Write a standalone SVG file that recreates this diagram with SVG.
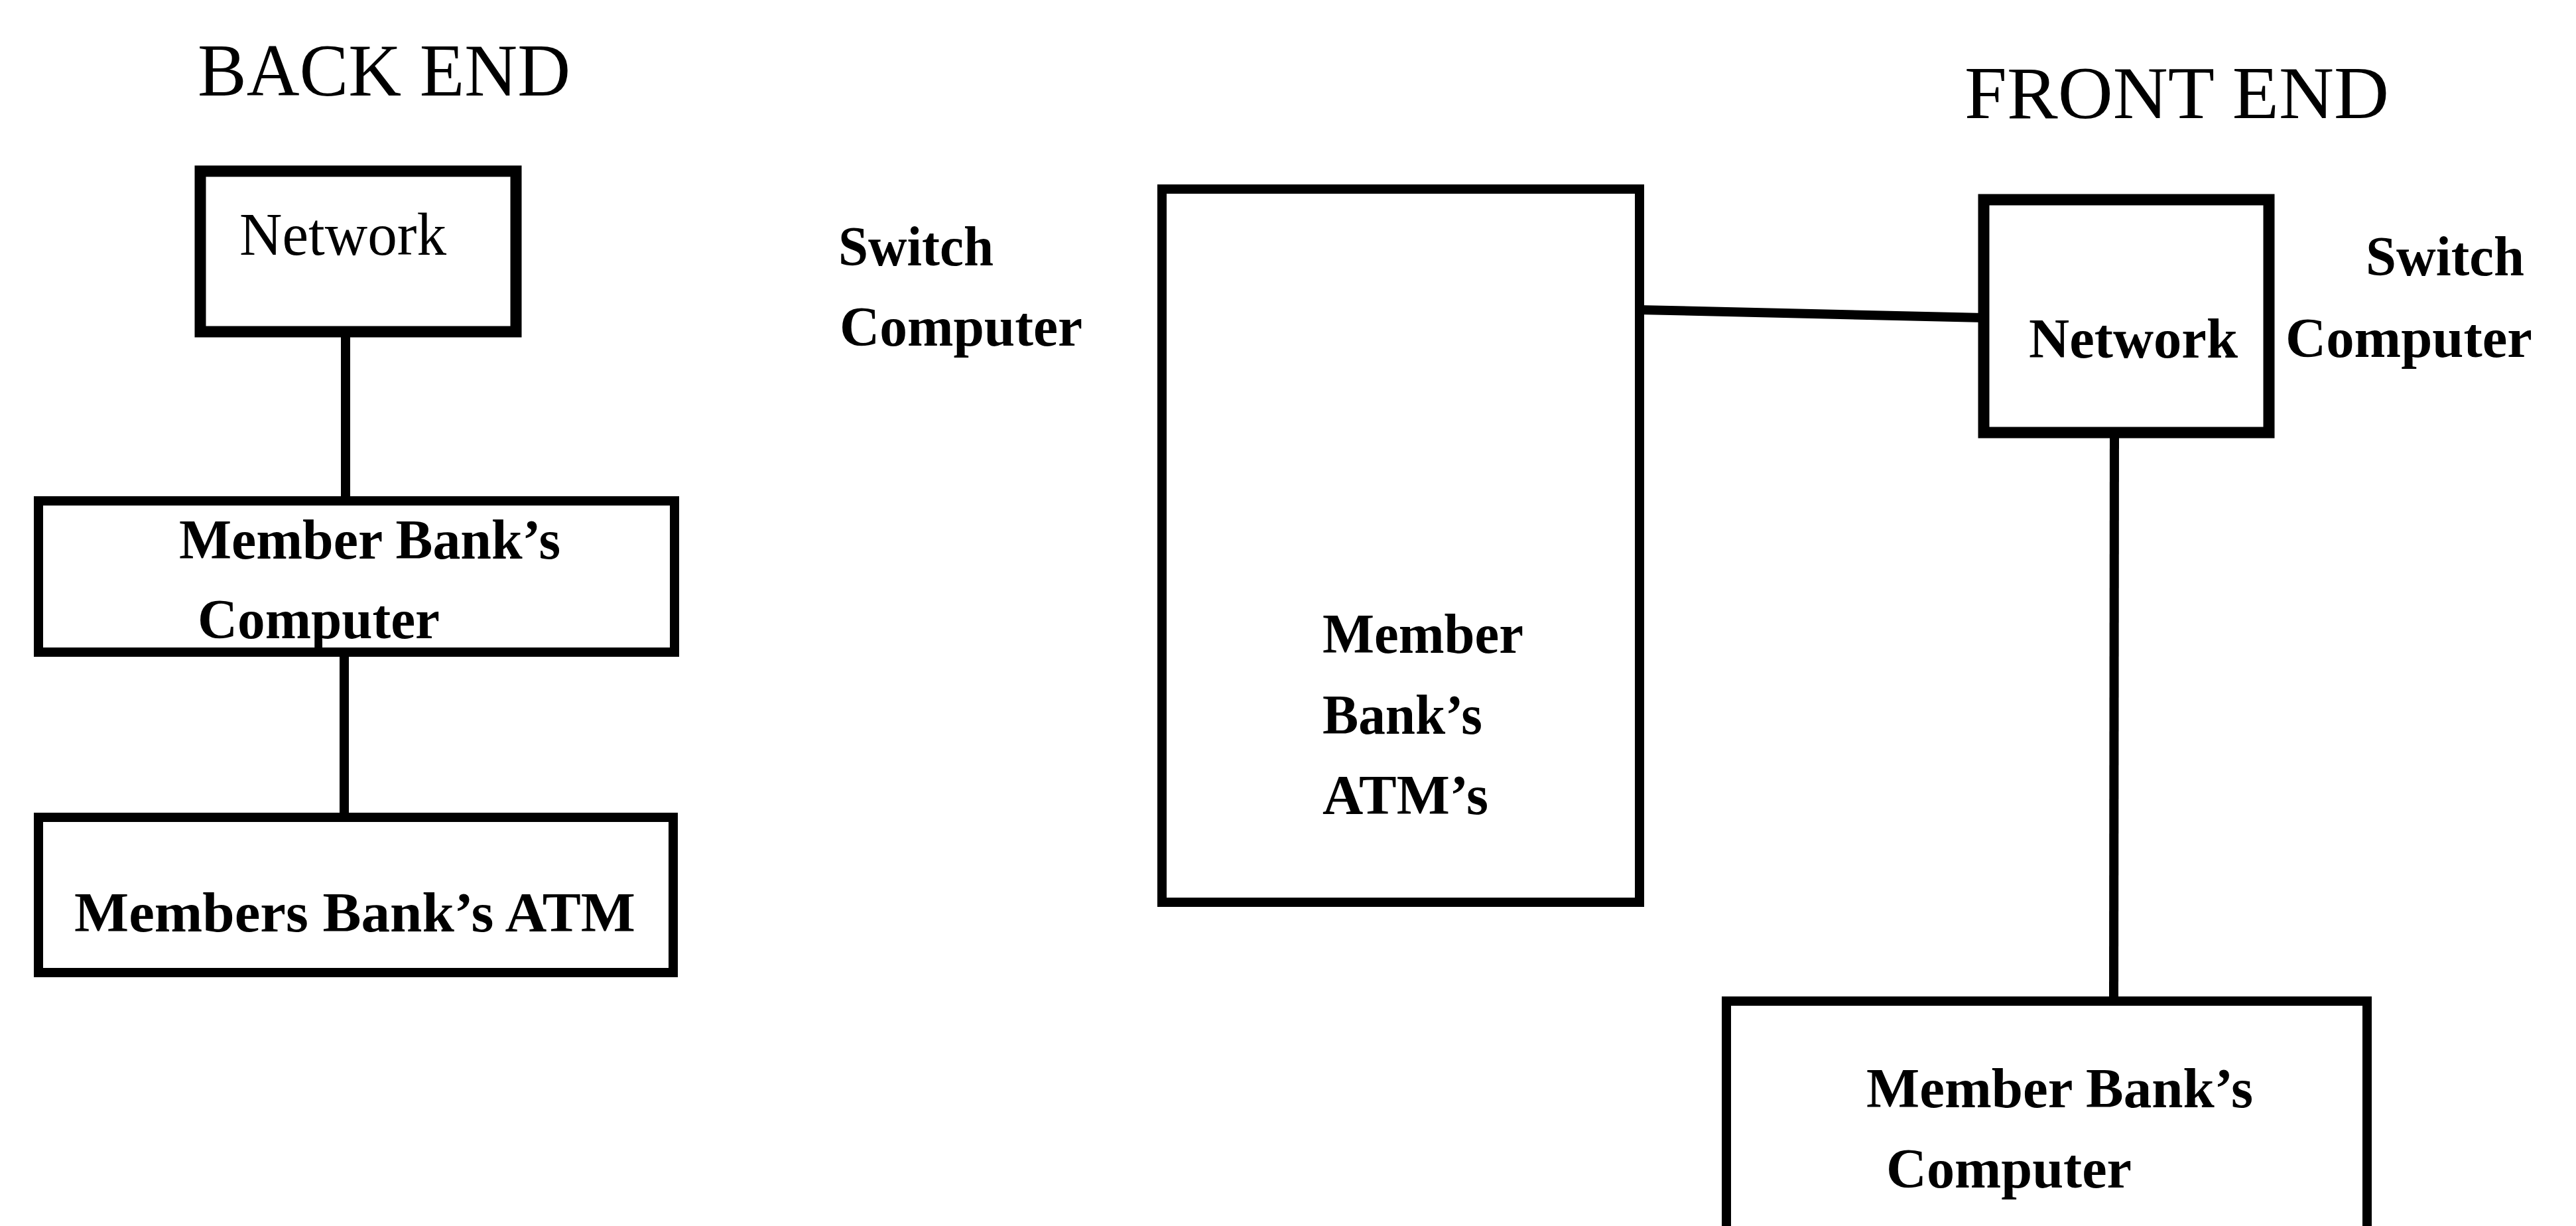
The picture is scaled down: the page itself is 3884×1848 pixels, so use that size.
<svg xmlns="http://www.w3.org/2000/svg" width="3884" height="1848" viewBox="0 0 3884 1848">
<style>
  .box { fill: none; stroke: #000; stroke-width: 14; stroke-linejoin: miter; }
  .thick { stroke-width: 17; }
  .conn { stroke: #000; stroke-width: 14; fill: none; }
  .hdr { font-family: "Liberation Serif", "Times New Roman", serif; font-size: 112px; fill: #000; }
  .lbl { font-family: "Liberation Serif", "Times New Roman", serif; font-size: 84px; font-weight: bold; fill: #000; }
  .lblr { font-family: "Liberation Serif", "Times New Roman", serif; font-size: 92px; fill: #000; }
</style>
<rect x="0" y="0" width="3884" height="1848" fill="#fff"/>

<g id="headers">
  <text class="hdr" x="298" y="144" textLength="562" lengthAdjust="spacingAndGlyphs">BACK END</text>
  <text class="hdr" x="2962" y="178" textLength="640" lengthAdjust="spacingAndGlyphs">FRONT END</text>
</g>

<g id="connectors">
  <line class="conn" x1="521" y1="500" x2="521" y2="755"/>
  <line class="conn" x1="519" y1="983" x2="519" y2="1232"/>
  <line class="conn" x1="2472" y1="467" x2="2991" y2="479"/>
  <line class="conn" x1="3188" y1="652" x2="3187" y2="1509"/>
</g>

<g id="back-network">
  <rect class="box thick" x="302" y="258" width="476" height="242"/>
  <text class="lblr" x="361" y="384" textLength="312" lengthAdjust="spacingAndGlyphs">Network</text>
</g>

<g id="back-member-computer">
  <rect class="box" x="58" y="755" width="959" height="228"/>
  <text class="lbl" x="270" y="842" textLength="575" lengthAdjust="spacingAndGlyphs">Member Bank’s</text>
  <text class="lbl" x="298" y="962" textLength="365" lengthAdjust="spacingAndGlyphs">Computer</text>
</g>

<g id="back-members-atm">
  <rect class="box" x="58" y="1232" width="957" height="234"/>
  <text class="lbl" x="112" y="1404" textLength="846" lengthAdjust="spacingAndGlyphs">Members Bank’s ATM</text>
</g>

<g id="switch-computer-label-left">
  <text class="lbl" x="1264" y="400" textLength="234" lengthAdjust="spacingAndGlyphs">Switch</text>
  <text class="lbl" x="1266" y="521" textLength="366" lengthAdjust="spacingAndGlyphs">Computer</text>
</g>

<g id="member-atms">
  <rect class="box" x="1752" y="285" width="720" height="1075"/>
  <text class="lbl" x="1994" y="984" textLength="303" lengthAdjust="spacingAndGlyphs">Member</text>
  <text class="lbl" x="1994" y="1106" textLength="241" lengthAdjust="spacingAndGlyphs">Bank’s</text>
  <text class="lbl" x="1994" y="1227" textLength="250" lengthAdjust="spacingAndGlyphs">ATM’s</text>
</g>

<g id="front-network">
  <rect class="box thick" x="2991" y="301" width="430" height="351"/>
  <text class="lbl" x="3059" y="539" textLength="315" lengthAdjust="spacingAndGlyphs">Network</text>
</g>

<g id="switch-computer-label-right">
  <text class="lbl" x="3567" y="415" textLength="239" lengthAdjust="spacingAndGlyphs">Switch</text>
  <text class="lbl" x="3446" y="538" textLength="372" lengthAdjust="spacingAndGlyphs">Computer</text>
</g>

<g id="front-member-computer">
  <rect class="box" x="2603" y="1509" width="966" height="346"/>
  <text class="lbl" x="2814" y="1669" textLength="583" lengthAdjust="spacingAndGlyphs">Member Bank’s</text>
  <text class="lbl" x="2844" y="1790" textLength="370" lengthAdjust="spacingAndGlyphs">Computer</text>
</g>
</svg>
